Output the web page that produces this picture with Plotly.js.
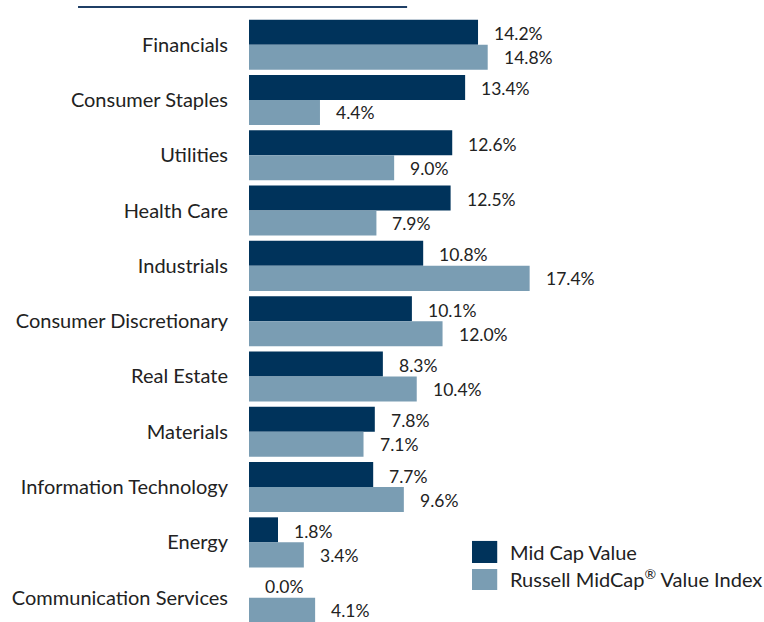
<!DOCTYPE html>
<html><head><meta charset="utf-8">
<script src="https://cdn.plot.ly/plotly-3.0.1.min.js"></script>
<style>html,body{margin:0;padding:0;background:#fff}</style>
</head><body>
<div id="chart" style="width:764px;height:622px"></div>
<script>
const categories = ["Financials","Consumer Staples","Utilities","Health Care","Industrials","Consumer Discretionary","Real Estate","Materials","Information Technology","Energy","Communication Services"];
const midCapValue = [14.2,13.4,12.6,12.5,10.8,10.1,8.3,7.8,7.7,1.8,0.0];
const russellIndex = [14.8,4.4,9.0,7.9,17.4,12.0,10.4,7.1,9.6,3.4,4.1];
const seriesNames = ["Mid Cap Value","Russell MidCap<sup>®</sup> Value Index"];
const colors = ["#00335B","#7A9DB3"];

const fmt = v => v.toFixed(1) + "%";
const labelFont = {family:"Lato, 'Open Sans', sans-serif", size:17.5, color:"#222"};

const traces = [
  {type:"bar", orientation:"h", name:seriesNames[0], y:categories, x:midCapValue,
   marker:{color:colors[0]}, hoverinfo:"x"},
  {type:"bar", orientation:"h", name:seriesNames[1], y:categories, x:russellIndex,
   marker:{color:colors[1]}, hoverinfo:"x"}
];

const annotations = [];
categories.forEach((c,i)=>{
  annotations.push({x:midCapValue[i], y:c, xref:"x", yref:"y", text:fmt(midCapValue[i]),
    showarrow:false, xanchor:"left", xshift:14, yshift:11, font:labelFont});
  annotations.push({x:russellIndex[i], y:c, xref:"x", yref:"y", text:fmt(russellIndex[i]),
    showarrow:false, xanchor:"left", xshift:14, yshift:-13, font:labelFont});
});
// custom legend
const legFont = {family:"Lato, 'Open Sans', sans-serif", size:20, color:"#222"};
seriesNames.forEach((n,k)=>{
  annotations.push({x:0.502, y:0.1157 - k*0.043, xref:"paper", yref:"paper", text:n,
    showarrow:false, xanchor:"left", yanchor:"middle", font:legFont});
});
const shapes = [
  {type:"line", xref:"paper", yref:"paper", x0:-0.332, x1:0.307, y0:1.0165, y1:1.0165,
   line:{color:"#1F3F66", width:2}},
  {type:"rect", xref:"paper", yref:"paper", x0:0.433, x1:0.482, y0:0.0975, y1:0.134,
   fillcolor:colors[0], line:{width:0}},
  {type:"rect", xref:"paper", yref:"paper", x0:0.433, x1:0.482, y0:0.0529, y1:0.0876,
   fillcolor:colors[1], line:{width:0}}
];

const layout = {
  width:764, height:622,
  margin:{l:249, r:0, t:17, b:0, pad:0},
  paper_bgcolor:"#fff", plot_bgcolor:"#fff",
  barmode:"group", bargap:0.095, bargroupgap:0,
  showlegend:false,
  xaxis:{range:[0,31.93], visible:false, fixedrange:true},
  yaxis:{type:"category", range:[10.44,-0.5], showgrid:false, zeroline:false, showline:false,
    ticks:"outside", ticklen:16, tickcolor:"rgba(0,0,0,0)",
    tickfont:{family:"Lato, 'Open Sans', sans-serif", size:20, color:"#222"}},
  annotations, shapes
};
Plotly.newPlot("chart", traces, layout, {displayModeBar:false, staticPlot:true});
</script>
</body></html>
